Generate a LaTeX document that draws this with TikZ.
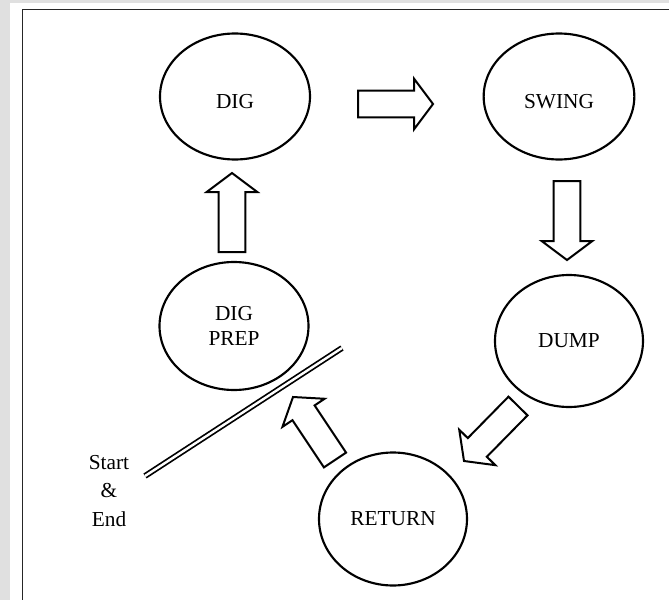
\documentclass[tikz,border=0pt]{standalone}
\usepackage{fontspec}
\setmainfont{Liberation Serif}
\usetikzlibrary{shapes.geometric,calc}
\newcommand\blockarrow[2]{%
  \coordinate (ba-h) at ($(#2)!14.25pt!(#1)$);
  \draw[arrowline] ($(#1)!10pt!90:(#2)$) -- ($(ba-h)!10pt!90:(#2)$) -- ($(ba-h)!19pt!90:(#2)$) -- (#2)
    -- ($(ba-h)!19pt!-90:(#2)$) -- ($(ba-h)!10pt!-90:(#2)$) -- ($(#1)!10pt!-90:(#2)$) -- cycle;}
\begin{document}
\begin{tikzpicture}[x=0.75pt,y=-0.75pt,
  statefont/.style={font=\fontsize{16}{18.75}\selectfont},
  state/.style={draw, ellipse, line width=1.6pt, inner sep=0pt, align=center, statefont},
  arrowline/.style={draw, line width=1.5pt, fill=white, line join=miter},
  txt/.style={inner sep=0pt, align=center, font=\fontsize{16}{21.4}\selectfont},
  dline/.style={double, line width=1.3pt, double distance=1.8pt}]
\fill[black!12] (0,0) rectangle (669,600);
\useasboundingbox (0,0) rectangle (669,600);
\fill[white] (10,3) rectangle (669,600);
\draw[black!85, line width=1.4pt] (22.5,600) -- (22.5,9.5) -- (669,9.5);

\node[state, minimum width=112.5pt, minimum height=94.5pt,
  label={[statefont, yshift=-4pt]center:DIG}] (dig) at (235,96.5) {};
\node[state, minimum width=113pt, minimum height=94.5pt,
  label={[statefont, yshift=-4pt]center:SWING}] (swing) at (559,96.5) {};
\node[state, minimum width=111pt, minimum height=99pt] (dump) at (569,341) {DUMP};
\node[state, minimum width=111pt, minimum height=99.75pt] (return) at (393,519) {RETURN};
\node[state, minimum width=111.75pt, minimum height=96pt] (prep) at (234,326) {DIG\\PREP};
\node[txt] (se) at (109,491) {Start\\\&\\End};

\coordinate (a1t) at (358,104); \coordinate (a1h) at (433,104);
\coordinate (a2t) at (567,181); \coordinate (a2h) at (567,260);
\coordinate (a3t) at (518,406); \coordinate (a3h) at (464,461);
\coordinate (a4t) at (335,460); \coordinate (a4h) at (293,397);
\coordinate (a5t) at (232,252); \coordinate (a5h) at (232,173);
\blockarrow{a1t}{a1h}
\blockarrow{a2t}{a2h}
\blockarrow{a3t}{a3h}
\blockarrow{a4t}{a4h}
\blockarrow{a5t}{a5h}

\coordinate (se1) at (145,476); \coordinate (se2) at (342,348);
\draw[dline] (se1) -- (se2);
\end{tikzpicture}
\end{document}
